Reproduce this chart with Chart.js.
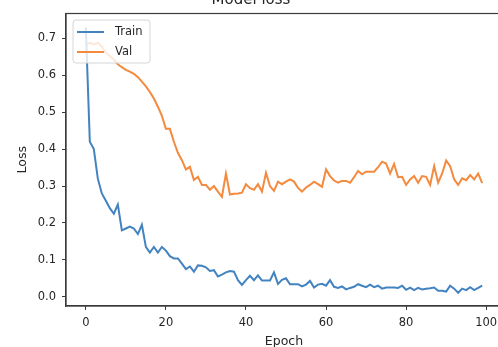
<!DOCTYPE html>
<html>
<head>
<meta charset="utf-8">
<script src="https://cdn.jsdelivr.net/npm/chart.js@4"></script>
<style>
  html, body { margin: 0; padding: 0; background: #fff; width: 498px; height: 347px; overflow: hidden; }
  #wrap { position: absolute; left: 0; top: -14px; width: 504px; height: 370px; }
</style>
</head>
<body>
<div id="wrap"><canvas id="c"></canvas></div>
<script>
const titleText = 'Model loss';
const xTitle = 'Epoch';
const yTitle = 'Loss';
const seriesNames = ['Train', 'Val'];

const trainLoss = [
  0.73, 0.42, 0.40, 0.32, 0.28, 0.26, 0.24, 0.225, 0.25, 0.18,
  0.185, 0.19, 0.185, 0.17, 0.195, 0.135, 0.12, 0.135, 0.12, 0.135,
  0.125, 0.11, 0.104, 0.104, 0.09, 0.075, 0.082, 0.068, 0.085, 0.084,
  0.08, 0.07, 0.072, 0.055, 0.06, 0.066, 0.07, 0.068, 0.045, 0.032,
  0.045, 0.057, 0.045, 0.058, 0.044, 0.044, 0.044, 0.066, 0.035, 0.046,
  0.05, 0.034, 0.034, 0.034, 0.028, 0.033, 0.043, 0.025, 0.033, 0.035,
  0.03, 0.045, 0.027, 0.024, 0.028, 0.02, 0.024, 0.027, 0.034, 0.03,
  0.026, 0.033, 0.026, 0.03, 0.022, 0.025, 0.025, 0.025, 0.024, 0.03,
  0.019, 0.025, 0.018, 0.024, 0.02, 0.022, 0.023, 0.025, 0.016, 0.016,
  0.014, 0.03, 0.022, 0.011, 0.022, 0.018, 0.026, 0.018, 0.024, 0.03
];
const valLoss = [
  0.683, 0.688, 0.684, 0.688, 0.678, 0.662, 0.652, 0.642, 0.63, 0.622,
  0.615, 0.61, 0.604, 0.595, 0.583, 0.57, 0.555, 0.537, 0.515, 0.49,
  0.455, 0.455, 0.42, 0.39, 0.37, 0.345, 0.352, 0.316, 0.325, 0.303,
  0.303, 0.29, 0.30, 0.285, 0.271, 0.334, 0.277, 0.279, 0.28, 0.282,
  0.305, 0.294, 0.29, 0.305, 0.285, 0.336, 0.30, 0.287, 0.312, 0.305,
  0.312, 0.318, 0.312, 0.295, 0.285, 0.296, 0.303, 0.312, 0.305, 0.298,
  0.345, 0.327, 0.315, 0.309, 0.314, 0.314, 0.309, 0.324, 0.341, 0.332,
  0.339, 0.339, 0.339, 0.351, 0.366, 0.361, 0.334, 0.36, 0.324, 0.325,
  0.303, 0.318, 0.327, 0.309, 0.327, 0.325, 0.303, 0.354, 0.309, 0.334,
  0.369, 0.354, 0.318, 0.303, 0.321, 0.316, 0.33, 0.318, 0.334, 0.308
];
const epochs = trainLoss.map((_, i) => i);
const xTickValues = [0, 20, 40, 60, 80, 100];
const yTickValues = [0.0, 0.1, 0.2, 0.3, 0.4, 0.5, 0.6, 0.7];

const FONT = "'DejaVu Sans', sans-serif";
const TEXT = '#262626';
const AXIS = '#3a3a3a';
const COLORS = ['#4283c0', '#f48a3e'];

const framePlugin = {
  id: 'frame',
  afterDraw(chart) {
    const a = chart.chartArea, ctx = chart.ctx;
    ctx.save();
    ctx.strokeStyle = AXIS;
    ctx.lineWidth = 1.2;
    ctx.strokeRect(a.left, a.top, a.right - a.left, a.bottom - a.top);
    // legend inside the axes (upper left)
    const x = a.left + 7, y = a.top + 6.5, w = 77, h = 43, r = 3;
    ctx.beginPath();
    ctx.moveTo(x + r, y);
    ctx.arcTo(x + w, y, x + w, y + h, r);
    ctx.arcTo(x + w, y + h, x, y + h, r);
    ctx.arcTo(x, y + h, x, y, r);
    ctx.arcTo(x, y, x + w, y, r);
    ctx.closePath();
    ctx.fillStyle = 'rgba(255,255,255,0.8)';
    ctx.fill();
    ctx.strokeStyle = '#d6d6d6';
    ctx.lineWidth = 1;
    ctx.stroke();
    ctx.font = '11.5px ' + FONT;
    ctx.textBaseline = 'middle';
    ctx.textAlign = 'left';
    chart.data.datasets.forEach((ds, i) => {
      const yy = y + 12 + i * 20;
      ctx.strokeStyle = ds.borderColor;
      ctx.lineWidth = ds.borderWidth;
      ctx.beginPath();
      ctx.moveTo(x + 4, yy);
      ctx.lineTo(x + 31, yy);
      ctx.stroke();
      ctx.fillStyle = TEXT;
      ctx.fillText(ds.label, x + 42, yy);
    });
    ctx.restore();
  }
};

new Chart(document.getElementById('c'), {
  type: 'line',
  data: {
    labels: epochs,
    datasets: [
      { label: seriesNames[0], data: trainLoss, borderColor: COLORS[0], backgroundColor: COLORS[0], borderWidth: 2, pointRadius: 0, tension: 0, fill: false },
      { label: seriesNames[1], data: valLoss, borderColor: COLORS[1], backgroundColor: COLORS[1], borderWidth: 2, pointRadius: 0, tension: 0, fill: false }
    ]
  },
  options: {
    responsive: true,
    maintainAspectRatio: false,
    animation: false,
    layout: { padding: { left: 0, right: 2, top: 0, bottom: 0 } },
    plugins: {
      legend: { display: false },
      tooltip: { enabled: false },
      title: {
        display: true,
        text: titleText,
        color: TEXT,
        font: { family: FONT, size: 15, weight: 'normal' },
        padding: { top: 5, bottom: 4.5 }
      }
    },
    scales: {
      x: {
        type: 'linear',
        min: -4.95,
        max: 103.95,
        afterBuildTicks: s => { s.ticks = xTickValues.map(v => ({ value: v })); },
        afterFit: s => { s.height = 50; },
        ticks: { color: TEXT, font: { family: FONT, size: 11.5 }, padding: 6, maxRotation: 0, autoSkip: false, callback: v => String(v) },
        grid: { display: true, drawOnChartArea: false, drawTicks: true, tickLength: 4, color: AXIS, lineWidth: 1 },
        border: { display: true, color: AXIS, width: 1.2 },
        title: { display: true, text: xTitle, color: TEXT, font: { family: FONT, size: 12.5 }, padding: { top: 0, bottom: 7 } }
      },
      y: {
        type: 'linear',
        min: -0.025,
        max: 0.7675,
        afterBuildTicks: s => { s.ticks = yTickValues.map(v => ({ value: v })); },
        afterFit: s => { s.width = 66; },
        ticks: { color: TEXT, font: { family: FONT, size: 11.5 }, padding: 6, autoSkip: false, callback: v => Number(v).toFixed(1) },
        grid: { display: true, drawOnChartArea: false, drawTicks: true, tickLength: 4, color: AXIS, lineWidth: 1 },
        border: { display: true, color: AXIS, width: 1.2 },
        title: { display: true, text: yTitle, color: TEXT, font: { family: FONT, size: 12.5 }, padding: { top: 15, bottom: 0 } }
      }
    }
  },
  plugins: [framePlugin]
});
</script>
</body>
</html>
